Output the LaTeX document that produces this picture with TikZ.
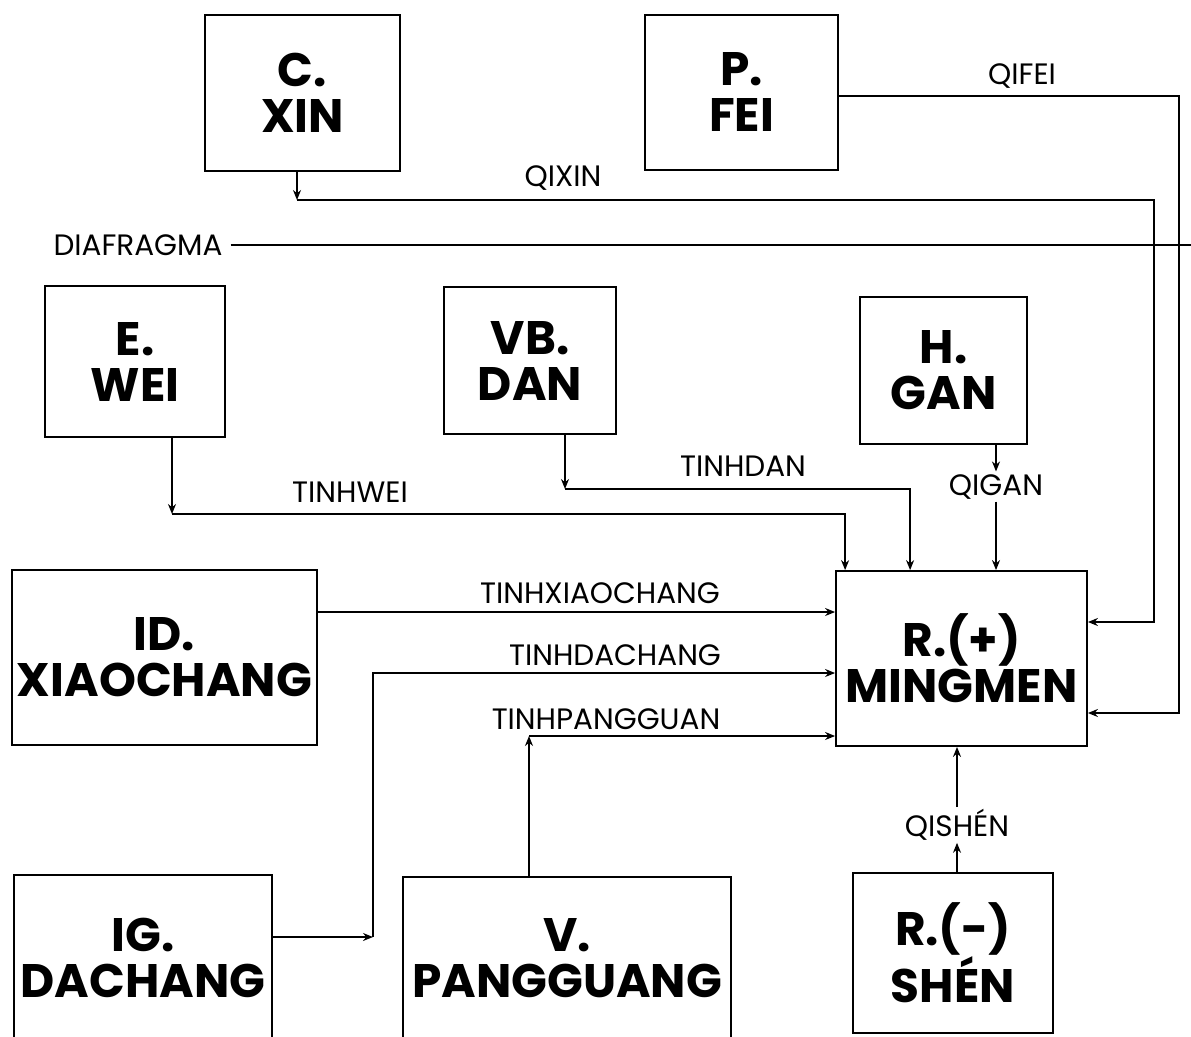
\documentclass[tikz,border=0pt]{standalone}
\usepackage{fontspec}
\setmainfont{Poppins}
\newfontfamily\heavy{Poppins Bold}
\usetikzlibrary{arrows.meta,calc}
\begin{document}
\begin{tikzpicture}[x=1pt,y=-1pt,
  box/.style={draw,line width=1.8pt,align=center,inner sep=0pt,
    font=\heavy\fontsize{47}{46}\selectfont},
  lbl/.style={font=\fontsize{29.5}{31}\selectfont,inner sep=2pt},
  conn/.style={line width=1.6pt},
  arr/.style={conn,-{Stealth[length=10pt,width=8pt]}}]
\useasboundingbox (0,0) rectangle (1191,1036);
\fill[white] (0,0) rectangle (1191,1036);
% boxes
\node[box,minimum width=195pt,minimum height=156pt] (xin) at (302.5,93) {C.\\XIN};
\node[box,minimum width=193pt,minimum height=155pt] (fei) at (741.5,92.5) {P.\\FEI};
\node[box,minimum width=180pt,minimum height=151pt] (wei) at (135,361.5) {E.\\WEI};
\node[box,minimum width=172pt,minimum height=147pt] (dan) at (530,360.5) {VB.\\DAN};
\node[box,minimum width=167pt,minimum height=147pt] (gan) at (943.5,370.5) {H.\\GAN};
\node[box,minimum width=251pt,minimum height=175pt] (ming) at (961.5,658.5) {R.(+)\\MINGMEN};
\node[box,minimum width=305pt,minimum height=175pt] (xiao) at (164.5,657.5) {ID.\\XIAOCHANG};
\node[box,minimum width=258pt,minimum height=165pt] (dach) at (143,957.5) {IG.\\DACHANG};
\node[box,minimum width=328pt,minimum height=163pt] (pang) at (567,958.5) {V.\\PANGGUANG};
\node[box,minimum width=200pt,minimum height=160pt] (shen) at (953,953) {R.(-)\\SHÉN};
% labels
\node[lbl] (lqixin) at (563,178) {QIXIN};
\node[lbl] (lqifei) at (1022,76) {QIFEI};
\node[lbl] (dia) at (138,245) {DIAFRAGMA};
\node[lbl] (lwei) at (350,492) {TINHWEI};
\node[lbl] (ldan) at (743,466) {TINHDAN};
\node[lbl] (qigan) at (996,487) {QIGAN};
\node[lbl] (lxiao) at (600,593) {TINHXIAOCHANG};
\node[lbl] (ldach) at (615,655) {TINHDACHANG};
\node[lbl] (lpang) at (606,719) {TINHPANGGUAN};
\node[lbl] (qishen) at (957,825) {QISHÉN};
% corner coordinates
\coordinate (cxin) at (297,200);
\coordinate (qx) at (1154,622);
\coordinate (qf) at (1179,713);
\coordinate (dend) at (1191,245);
\coordinate (cwei) at (172,514);
\coordinate (cdan) at (565,489);
\coordinate (cdach) at (373,937);
\coordinate (cpang) at (529,736);
% connectors
\draw[arr] (xin.south -| cxin) -- (cxin);
\draw[arr] (cxin) -| (qx) -- (qx -| ming.east);
\draw[arr] ([yshift=-3.5pt]fei.east) -| (qf) -- (qf -| ming.east);
\draw[conn] ([xshift=6pt]dia.east) -- (dend);
\draw[arr] (wei.south -| cwei) -- (cwei);
\draw[arr] (cwei) -| ([xshift=10pt]ming.north west);
\draw[arr] (dan.south -| cdan) -- (cdan);
\draw[arr] (cdan) -| ([xshift=75pt]ming.north west);
\draw[arr] (gan.south -| qigan) -- ([yshift=1pt]qigan.north);
\draw[arr] (qigan.south) -- (qigan.south |- ming.north);
\draw[arr] ([yshift=45.5pt]xiao.east) -- ([yshift=45.5pt]xiao.east -| ming.west);
\draw[arr] (dach.east |- cdach) -- (cdach);
\draw[arr] (cdach) |- ([yshift=-14.5pt]ming.west);
\draw[arr] (pang.north -| cpang) -- (cpang);
\draw[arr] (cpang) -- (cpang -| ming.west);
\draw[arr] (shen.north -| qishen) -- (qishen.south);
\draw[arr] (qishen.north) -- (qishen.north |- ming.south);
\end{tikzpicture}
\end{document}
